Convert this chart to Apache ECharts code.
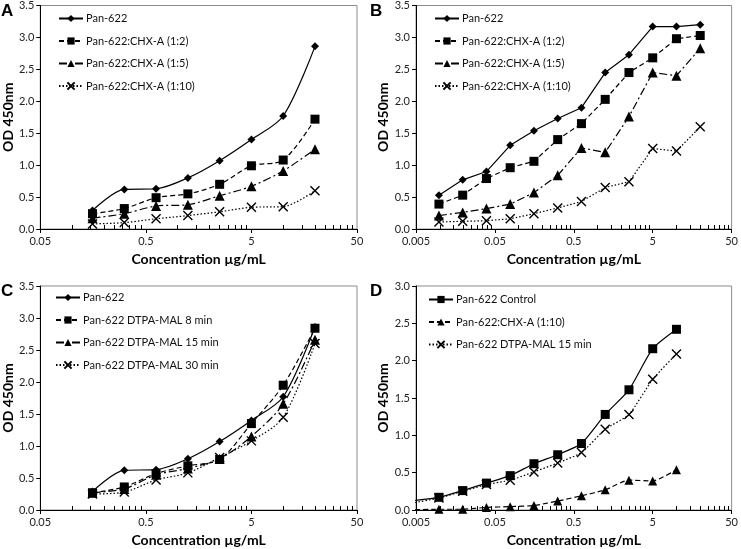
<!DOCTYPE html>
<html>
<head>
<meta charset="utf-8">
<script src="https://cdn.jsdelivr.net/npm/echarts@6/dist/echarts.min.js"></script>
<style>
  html, body { margin: 0; padding: 0; background: #fff; }
  #chart { width: 741px; height: 549px; }
</style>
</head>
<body>
<div id="chart"></div>
<script>
// concentrations (2-fold dilutions)
var concAC = [0.15625, 0.3125, 0.625, 1.25, 2.5, 5, 10, 20];
var concB = [0.009765625, 0.01953125, 0.0390625, 0.078125, 0.15625, 0.3125, 0.625, 1.25, 2.5, 5, 10, 20];
var concD = [0.0048828125, 0.009765625, 0.01953125, 0.0390625, 0.078125, 0.15625, 0.3125, 0.625, 1.25, 2.5, 5, 10];

// panel A
var aPan = [0.29, 0.62, 0.63, 0.80, 1.07, 1.40, 1.77, 2.86];
var aChx12 = [0.24, 0.32, 0.49, 0.55, 0.70, 0.99, 1.08, 1.72];
var aChx15 = [0.17, 0.24, 0.36, 0.38, 0.52, 0.67, 0.91, 1.25];
var aChx110 = [0.08, 0.10, 0.16, 0.21, 0.27, 0.34, 0.35, 0.60];

// panel B
var bPan = [0.53, 0.77, 0.90, 1.31, 1.54, 1.73, 1.90, 2.45, 2.73, 3.17, 3.17, 3.20];
var bChx12 = [0.39, 0.53, 0.79, 0.96, 1.06, 1.40, 1.65, 2.03, 2.45, 2.68, 2.98, 3.03];
var bChx15 = [0.21, 0.26, 0.32, 0.39, 0.57, 0.84, 1.27, 1.20, 1.76, 2.45, 2.40, 2.83];
var bChx110 = [0.11, 0.12, 0.13, 0.16, 0.24, 0.33, 0.43, 0.65, 0.74, 1.26, 1.22, 1.60];

// panel C
var cPan = [0.29, 0.62, 0.63, 0.80, 1.07, 1.40, 1.77, 2.86];
var cMal8 = [0.27, 0.36, 0.57, 0.69, 0.79, 1.35, 1.95, 2.84];
var cMal15 = [0.27, 0.33, 0.55, 0.65, 0.80, 1.15, 1.66, 2.66];
var cMal30 = [0.25, 0.28, 0.47, 0.58, 0.82, 1.08, 1.45, 2.60];

// panel D
var dCtrl = [0.13, 0.17, 0.26, 0.36, 0.46, 0.62, 0.74, 0.89, 1.28, 1.61, 2.16, 2.42];
var dChx110 = [0.005, 0.01, 0.01, 0.035, 0.045, 0.06, 0.12, 0.19, 0.27, 0.40, 0.39, 0.54];
var dMal15 = [0.10, 0.16, 0.25, 0.34, 0.40, 0.51, 0.63, 0.77, 1.08, 1.28, 1.75, 2.09];

// axis ticks
var ticksAC = [0.05, 0.5, 5, 50];
var ticksBD = [0.005, 0.05, 0.5, 5, 50];

function minorTicks(majors) {
    var out = [];
    for (var i = 0; i < majors.length - 1; i++) {
        for (var k = 2; k <= 9; k++) out.push(+(majors[i] * k).toPrecision(6));
    }
    return out;
}

var FONT = 'Lato';
var crossPath = 'path://M0,0L10,10M10,0L0,10';

var styles = {
    diamond: { symbol: 'diamond', symbolSize: 8, dash: 'solid' },
    square: { symbol: 'rect', symbolSize: 9, dash: [5, 3] },
    triDashDot: { symbol: 'triangle', symbolSize: 10, dash: [8, 3, 2, 3] },
    triDash: { symbol: 'triangle', symbolSize: 9, dash: [5, 3] },
    crossDot: { symbol: crossPath, symbolSize: 9, dash: [1.5, 2] },
    squareSolid: { symbol: 'rect', symbolSize: 9, dash: 'solid' }
};

function makeSeries(idx, key, name, xs, ys, st, smooth) {
    var isCross = st.symbol === crossPath;
    return {
        type: 'line',
        name: key + '|' + name,
        xAxisIndex: idx * 2,
        yAxisIndex: idx,
        data: xs.map(function (x, i) { return [x, ys[i]]; }),
        symbol: st.symbol,
        symbolSize: st.symbolSize,
        smooth: smooth,
        clip: true,
        lineStyle: { color: '#000', width: 1.2, type: st.dash },
        itemStyle: isCross
            ? { color: 'rgba(0,0,0,0)', borderColor: '#000', borderWidth: 1.4 }
            : { color: '#000', borderColor: '#000', borderWidth: 0 },
        emphasis: { disabled: true },
        z: 3
    };
}

var grids = [
    { left: 40, top: 5, width: 317, height: 224 },
    { left: 416, top: 5, width: 317, height: 224 },
    { left: 40, top: 286, width: 317, height: 224 },
    { left: 416, top: 286, width: 317, height: 224 }
];

var xRanges = [
    [0.05, 50, ticksAC], [0.005, 50, ticksBD], [0.05, 50, ticksAC], [0.005, 50, ticksBD]
];

var xAxes = [];
var yAxes = [];
grids.forEach(function (g, i) {
    var r = xRanges[i];
    xAxes.push({
        type: 'log', logBase: 10, gridIndex: i, min: r[0], max: r[1], position: 'bottom',
        name: 'Concentration µg/mL', nameLocation: 'middle', nameGap: 23,
        nameTextStyle: { fontFamily: FONT, fontWeight: 'bold', fontSize: 14, color: '#000' },
        axisLine: { show: true, onZero: false, lineStyle: { color: '#000', width: 1 } },
        axisTick: { show: true, inside: false, length: 4, customValues: r[2], lineStyle: { color: '#000' } },
        axisLabel: {
            customValues: r[2], fontFamily: FONT, fontSize: 11, color: '#222', margin: 7,
            showMinLabel: true, showMaxLabel: true,
            formatter: function (v) { return String(+(+v).toPrecision(3)); }
        },
        splitLine: { show: false }, minorTick: { show: false }
    });
    xAxes.push({
        type: 'log', logBase: 10, gridIndex: i, min: r[0], max: r[1], position: 'bottom',
        axisLine: { show: false, onZero: false },
        axisTick: { show: true, inside: true, length: 4, customValues: minorTicks(r[2]), lineStyle: { color: '#000' } },
        axisLabel: { show: false },
        splitLine: { show: false }
    });
    var ymax = i === 3 ? 3 : 3.5;
    yAxes.push({
        type: 'value', gridIndex: i, min: 0, max: ymax, interval: 0.5,
        name: 'OD 450nm', nameLocation: 'middle', nameGap: 23,
        nameTextStyle: { fontFamily: FONT, fontWeight: 'bold', fontSize: 14, color: '#000' },
        axisLine: { show: true, lineStyle: { color: '#000', width: 1 } },
        axisTick: { show: true, inside: false, length: 4, lineStyle: { color: '#000' } },
        axisLabel: { fontFamily: FONT, fontSize: 11, color: '#222', margin: 6,
            formatter: function (v) { return v.toFixed(1); } },
        splitLine: { show: false }
    });
});

var series = [
    makeSeries(0, 'A', 'Pan-622', concAC, aPan, styles.diamond, 0.3),
    makeSeries(0, 'A', 'Pan-622:CHX-A (1:2)', concAC, aChx12, styles.square, 0.3),
    makeSeries(0, 'A', 'Pan-622:CHX-A (1:5)', concAC, aChx15, styles.triDashDot, 0.3),
    makeSeries(0, 'A', 'Pan-622:CHX-A (1:10)', concAC, aChx110, styles.crossDot, 0.3),

    makeSeries(1, 'B', 'Pan-622', concB, bPan, styles.diamond, false),
    makeSeries(1, 'B', 'Pan-622:CHX-A (1:2)', concB, bChx12, styles.square, false),
    makeSeries(1, 'B', 'Pan-622:CHX-A (1:5)', concB, bChx15, styles.triDashDot, false),
    makeSeries(1, 'B', 'Pan-622:CHX-A (1:10)', concB, bChx110, styles.crossDot, false),

    makeSeries(2, 'C', 'Pan-622', concAC, cPan, styles.diamond, 0.3),
    makeSeries(2, 'C', 'Pan-622 DTPA-MAL 8 min', concAC, cMal8, styles.square, 0.3),
    makeSeries(2, 'C', 'Pan-622 DTPA-MAL 15 min', concAC, cMal15, styles.triDashDot, 0.3),
    makeSeries(2, 'C', 'Pan-622 DTPA-MAL 30 min', concAC, cMal30, styles.crossDot, 0.3),

    makeSeries(3, 'D', 'Pan-622 Control', concD, dCtrl, styles.squareSolid, 0.2),
    makeSeries(3, 'D', 'Pan-622:CHX-A (1:10)', concD, dChx110, styles.triDash, 0.2),
    makeSeries(3, 'D', 'Pan-622 DTPA-MAL 15 min', concD, dMal15, styles.crossDot, 0.2)
];

var legendPos = [
    { key: 'A', left: 53, top: 8 },
    { key: 'B', left: 429, top: 8 },
    { key: 'C', left: 50, top: 287 },
    { key: 'D', left: 423, top: 289 }
];

var legends = legendPos.map(function (p) {
    return {
        orient: 'vertical', left: p.left, top: p.top,
        data: series.filter(function (s) { return s.name.charAt(0) === p.key; })
            .map(function (s) { return s.name; }),
        itemWidth: 24, itemHeight: 9, itemGap: 11.5,
        selectedMode: false,
        formatter: function (n) { return n.slice(2); },
        textStyle: { fontFamily: FONT, fontSize: 11, color: '#111', padding: [0, 0, 0, -2] }
    };
});

var letters = [['A', 1, 3], ['B', 370, 3], ['C', 1, 283], ['D', 370, 283]];

var chart = echarts.init(document.getElementById('chart'), null, { renderer: 'canvas' });
chart.setOption({
    animation: false,
    backgroundColor: '#fff',
    grid: grids.map(function (g) {
        return Object.assign({ show: true, borderColor: '#8c8c8c', borderWidth: 1, backgroundColor: 'transparent' }, g);
    }),
    xAxis: xAxes,
    yAxis: yAxes,
    legend: legends,
    series: series,
    graphic: letters.map(function (l) {
        return {
            type: 'text', left: l[1], top: l[2],
            style: { text: l[0], fontFamily: 'Liberation Sans', fontWeight: 'bold', fontSize: 17, fill: '#000' }
        };
    })
});
</script>
</body>
</html>
